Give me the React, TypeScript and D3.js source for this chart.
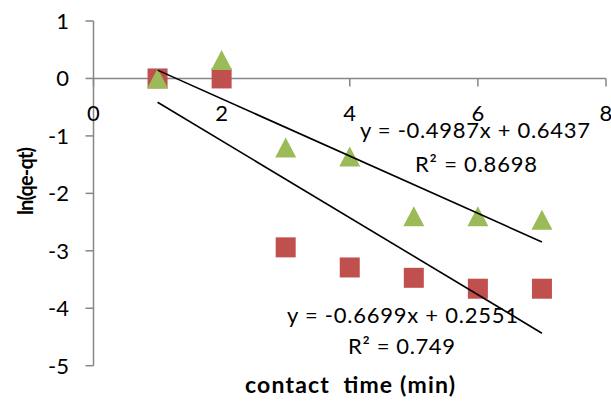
import React from "react";
import * as d3 from "d3";

const xValues = [1, 2, 3, 4, 5, 6, 7];
const redValues = [0, 0, -2.94, -3.29, -3.47, -3.66, -3.66];
const greenValues = [0, 0.32, -1.2, -1.36, -2.4, -2.4, -2.46];
const xTicks = [0, 2, 4, 6, 8];
const yTicks = [1, 0, -1, -2, -3, -4, -5];
const greenFit = { slope: -0.4987, intercept: 0.6437, label: "y = -0.4987x + 0.6437", r2: "R² = 0.8698" };
const redFit = { slope: -0.6699, intercept: 0.2551, label: "y = -0.6699x + 0.2551", r2: "R² = 0.749" };

const W = 611;
const H = 401;
const FONT = "Lato, 'Open Sans', sans-serif";

function triangle(w: number, h: number) {
  const p = d3.path();
  p.moveTo(0, -h / 2);
  p.lineTo(w / 2, h / 2);
  p.lineTo(-w / 2, h / 2);
  p.closePath();
  return p.toString();
}

export default function App() {
  const x = d3.scaleLinear().domain([0, 8]).range([93.5, 606]);
  const y = d3.scaleLinear().domain([-5, 1]).range([365.7, 21]);
  const axisColor = "#868686";
  const tri = triangle(21, 20);

  const fitLine = (f: { slope: number; intercept: number }) =>
    d3.line<number>()
      .x((d) => x(d))
      .y((d) => y(f.slope * d + f.intercept))([1, 7]) as string;

  return (
    <svg width={W} height={H} style={{ position: "absolute", left: 0, top: 0, background: "#fff" }} fontFamily={FONT}>
      {/* y axis */}
      <line x1={x(0)} x2={x(0)} y1={y(1)} y2={y(-5)} stroke={axisColor} strokeWidth={1.5} />
      {yTicks.map((t) => (
        <g key={"yt" + t}>
          <line x1={x(0) - 8} x2={x(0)} y1={y(t)} y2={y(t)} stroke={axisColor} strokeWidth={1.5} />
          <text x={69} y={y(t)} dy="0.36em" textAnchor="end" fontSize={22} fill="#000">
            {t < 0 ? "-" + Math.abs(t) : String(t)}
          </text>
        </g>
      ))}
      {/* x axis */}
      <line x1={x(0)} x2={x(8)} y1={y(0)} y2={y(0)} stroke={axisColor} strokeWidth={1.5} />
      {xTicks.map((t) => (
        <g key={"xt" + t}>
          <line x1={x(t)} x2={x(t)} y1={y(0)} y2={y(0) + 8} stroke={axisColor} strokeWidth={1.5} />
          <text x={x(t)} y={121} textAnchor="middle" fontSize={22} fill="#000">{t}</text>
        </g>
      ))}
      {/* points */}
      {xValues.map((xv, i) => (
        <rect key={"r" + i} x={x(xv) - 10} y={y(redValues[i]) - 10} width={20} height={20} fill="#C0504D" />
      ))}
      {xValues.map((xv, i) => (
        <path key={"g" + i} d={tri} transform={`translate(${x(xv)},${y(greenValues[i])})`} fill="#9BBB59" />
      ))}
      {/* trendlines */}
      <path d={fitLine(greenFit)} stroke="#000" strokeWidth={1.6} fill="none" />
      <path d={fitLine(redFit)} stroke="#000" strokeWidth={1.6} fill="none" />
      {/* equations */}
      <text x={360} y={138} textLength={230} lengthAdjust="spacing" fontSize={22} fill="#000">{greenFit.label}</text>
      <text x={415} y={172} textLength={122} lengthAdjust="spacing" fontSize={22} fill="#000">{greenFit.r2}</text>
      <text x={287} y={323} textLength={231} lengthAdjust="spacing" fontSize={22} fill="#000">{redFit.label}</text>
      <text x={348} y={354} textLength={107} lengthAdjust="spacing" fontSize={22} fill="#000">{redFit.r2}</text>
      {/* axis titles */}
      <text x={245} y={393} textLength={210} lengthAdjust="spacing" fontSize={23} fontWeight="bold" fill="#000" style={{ whiteSpace: "pre" }}>
        {"contact  time (min)"}
      </text>
      <text transform={`translate(33,215) rotate(-90)`} textLength={68} lengthAdjust="spacing" fontSize={20} fontWeight="bold" fill="#000">
        ln(qe-qt)
      </text>
    </svg>
  );
}
